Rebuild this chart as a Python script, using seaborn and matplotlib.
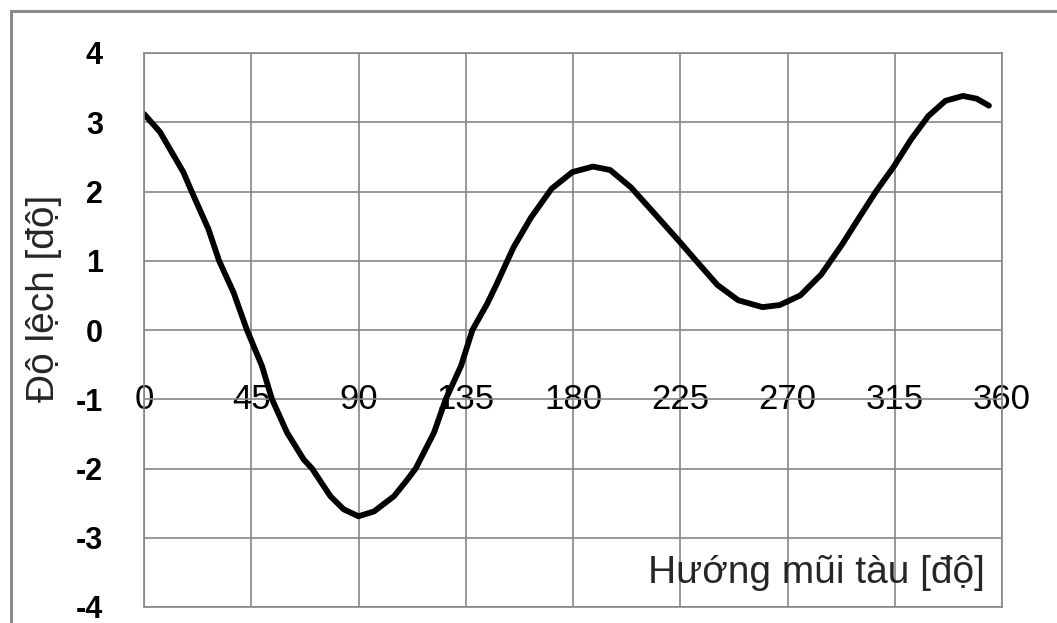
import matplotlib
matplotlib.use("Agg")
import matplotlib.pyplot as plt
from matplotlib.patches import Rectangle
import seaborn as sns

# heading angle [deg] and deviation [deg]
heading = [0, 6.7, 16.5, 20, 27, 31.5, 37.6, 43.2, 49.5, 53.7, 60, 67, 70.5, 78.2, 83.8, 90,
           96.5, 104.9, 110.5, 114, 121.7, 126.6, 133, 137.8, 144, 147.8, 155, 162.3, 171,
           179.7, 188.4, 195.6, 204.3, 214.5, 224.6, 231.9, 240.6, 249.3, 259.5, 266.7,
           275.4, 284.1, 292.8, 300, 307.3, 314.6, 321.8, 329.1, 336.3, 343.6, 349.4, 354.5]
deviation = [3.12, 2.86, 2.28, 2.00, 1.46, 1.00, 0.54, 0.00, -0.52, -1.00, -1.48, -1.87,
             -2.00, -2.40, -2.59, -2.69, -2.62, -2.40, -2.16, -2.00, -1.48, -1.00, -0.52,
             0.00, 0.38, 0.65, 1.19, 1.62, 2.04, 2.28, 2.36, 2.31, 2.06, 1.67, 1.28, 0.99,
             0.65, 0.43, 0.33, 0.36, 0.50, 0.80, 1.23, 1.62, 2.01, 2.36, 2.75, 3.09, 3.31,
             3.38, 3.34, 3.24]

x_ticks = list(range(0, 361, 45))
y_ticks = list(range(-4, 5))
x_label = "Hướng mũi tàu [độ]"
y_label = "Độ lệch [độ]"

sns.set_style("white")
plt.rcParams["font.family"] = ["Liberation Sans", "DejaVu Sans"]
plt.rcParams["axes.unicode_minus"] = False

W, H = 1057, 623
fig = plt.figure(figsize=(W / 100, H / 100), dpi=100)
ax = fig.add_axes([144 / W, 1 - 607 / H, 858 / W, 554 / H])

grid_c = "#868686"
sns.lineplot(x=heading, y=deviation, color="black", linewidth=4.2, ax=ax,
             solid_capstyle="round", solid_joinstyle="round", sort=False)

ax.set_xlim(0, 360)
ax.set_ylim(-4, 4)
ax.set_xticks(x_ticks)
ax.set_yticks(y_ticks)
ax.grid(True, color=grid_c, linewidth=1.2)
ax.set_axisbelow(True)
for s in ax.spines.values():
    s.set_color(grid_c)
    s.set_linewidth(1.2)

# x tick labels sit on the y = -1 gridline, like the Excel original
ax_h_pts = 554 / 100 * 72
ax.tick_params(axis="x", length=0, pad=-ax_h_pts * 3 / 8, labelsize=25, labelcolor="black")
for lbl in ax.get_xticklabels():
    lbl.set_va("center")
ax.tick_params(axis="y", length=8.6, width=1.2, color=grid_c, pad=21, labelsize=22,
               labelcolor="black")
for lbl in ax.get_yticklabels():
    lbl.set_fontweight("bold")

ax.set_xlabel(x_label, fontsize=28, ha="right", va="center")
ax.xaxis.set_label_coords((985 - 144) / 858, (607 - 573) / 554)
ax.set_ylabel(y_label, fontsize=28, va="center")
ax.yaxis.set_label_coords((44 - 144) / 858, (607 - 298) / 554)

# grey chart-area frame, cut off at the right and bottom
fig.add_artist(Rectangle((11 / W, -0.2), 1.3, 1.2 - 11 / H, transform=fig.transFigure,
                         fill=False, edgecolor="#8a8a8a", linewidth=2.2))

fig.savefig("out.png", dpi=100)
